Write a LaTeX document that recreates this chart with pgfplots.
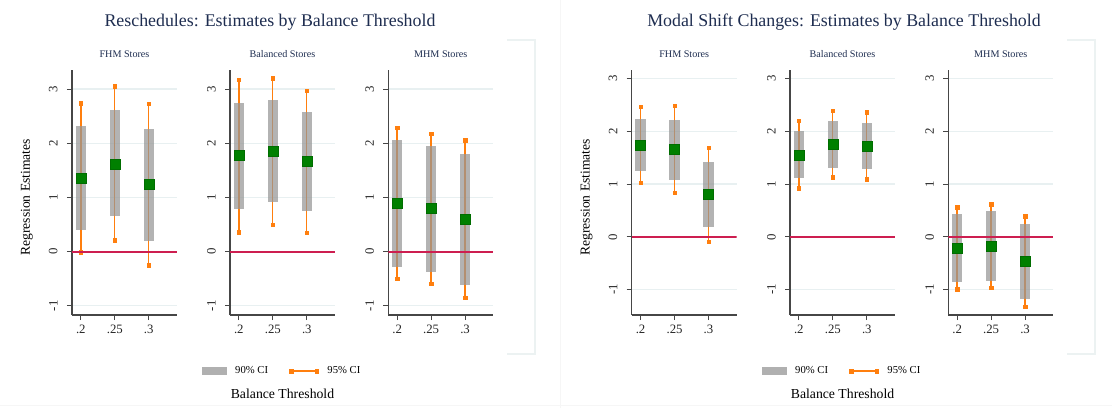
\documentclass[border=0pt]{standalone}
\usepackage{pgfplots}
\pgfplotsset{compat=1.18}
\usepackage{pgfplotstable}
\usepackage{fontspec}
\setmainfont{Liberation Serif}

\definecolor{myorange}{RGB}{255,127,14}
\definecolor{boxgray}{RGB}{150,150,150}
\definecolor{mygreen}{RGB}{0,128,0}
\definecolor{myred}{RGB}{205,30,80}
\definecolor{gridcol}{RGB}{232,240,241}
\definecolor{axisgray}{RGB}{70,70,70}
\definecolor{titlecol}{RGB}{30,45,80}
\definecolor{framecol}{RGB}{236,242,242}
\definecolor{framecolb}{RGB}{246,246,246}

% x: 0=.2, 1=.25, 2=.3
\pgfplotstableread{
x est lo90 hi90 lo95 hi95
0 1.36 0.40 2.32 -0.01 2.74
1 1.62 0.65 2.62 0.21 3.05
2 1.24 0.20 2.27 -0.25 2.73
}\tabAa
\pgfplotstableread{
x est lo90 hi90 lo95 hi95
0 1.77 0.79 2.75 0.36 3.17
1 1.85 0.91 2.79 0.49 3.20
2 1.66 0.75 2.58 0.35 2.97
}\tabAb
\pgfplotstableread{
x est lo90 hi90 lo95 hi95
0 0.89 -0.28 2.06 -0.50 2.28
1 0.79 -0.37 1.95 -0.59 2.17
2 0.59 -0.62 1.80 -0.85 2.05
}\tabAc
\pgfplotstableread{
x est lo90 hi90 lo95 hi95
0 1.73 1.24 2.23 1.02 2.46
1 1.65 1.08 2.22 0.83 2.48
2 0.80 0.18 1.41 -0.09 1.69
}\tabBa
\pgfplotstableread{
x est lo90 hi90 lo95 hi95
0 1.55 1.12 2.00 0.92 2.20
1 1.76 1.31 2.19 1.13 2.39
2 1.72 1.29 2.15 1.09 2.36
}\tabBb
\pgfplotstableread{
x est lo90 hi90 lo95 hi95
0 -0.21 -0.86 0.43 -0.99 0.56
1 -0.17 -0.83 0.49 -0.96 0.62
2 -0.47 -1.18 0.24 -1.32 0.39
}\tabBc

\pgfplotsset{
  ciaxis/.style={
    scale only axis, width=78.75pt, height=183.75pt, anchor=south west,
    xmin=-0.26, xmax=2.83,
    axis x line=bottom, axis y line=left,
    axis line style={draw=axisgray, line width=0.8pt, -},
    xtick={0,1,2}, xticklabels={.2,.25,.3},
    ytick={-1,0,1,2,3},
    tick style={draw=axisgray, line width=0.6pt},
    major tick length=3.75pt, tick align=outside,
    ymajorgrids, major grid style={gridcol, line width=0.9pt},
    /pgf/number format/assume math mode=true,
    tick label style={font=\fontsize{9.6}{11}\selectfont, text=black!85},
    yticklabel style={rotate=90, anchor=south},
    yticklabel shift=3.5pt,
    title style={font=\fontsize{7.6}{8}\selectfont, text=titlecol, at={(0.5,1)}, anchor=base, yshift=3.2pt},
    ylabel style={at={(axis description cs:-0.43,0.48)}, anchor=center, font=\fontsize{10.2}{11}\selectfont},
    xlabel style={at={(axis description cs:0.5,-0.322)}, anchor=center, font=\fontsize{10.3}{11}\selectfont},
    legend style={at={(0.5,-0.229)}, anchor=center, draw=none, fill=none,
      legend columns=2, font=\fontsize{8}{9}\selectfont,
      /tikz/every odd column/.append style={column sep=4.5pt},
      /tikz/every even column/.append style={column sep=14pt}},
  },
}

\newcommand{\ciplots}[1]{%
  \addplot[only marks, mark=none, forget plot,
    error bars/.cd, y dir=both, y explicit, error mark=square*,
    error mark options={myorange, fill=myorange, mark size=1.3pt},
    error bar style={myorange, line width=1pt}]
    table[x=x, y=est, y error plus expr=\thisrow{hi95}-\thisrow{est},
          y error minus expr=\thisrow{est}-\thisrow{lo95}] {#1};
  \addplot[only marks, mark=none, forget plot,
    error bars/.cd, y dir=both, y explicit, error mark=none,
    error bar style={boxgray, line width=7.75pt, draw opacity=0.72}]
    table[x=x, y=est, y error plus expr=\thisrow{hi90}-\thisrow{est},
          y error minus expr=\thisrow{est}-\thisrow{lo90}] {#1};
  \addplot[draw=myred, line width=1.4pt, no marks, forget plot] coordinates {(-0.26,0) (2.83,0)};
  \addplot[only marks, mark=square*, mark size=3.75pt,
    mark options={fill=mygreen, draw=mygreen!85!black, line width=0.4pt}, forget plot]
    table[x=x, y=est] {#1};
}

\newcommand{\cilegend}{%
  \addlegendimage{legend image code/.code={\fill[boxgray!75] (0pt,-2.6pt) rectangle (18pt,2.6pt);}}
  \addlegendentry{90\% CI}
  \addlegendimage{legend image code/.code={%
    \draw[myorange, line width=1pt] (0pt,0pt) -- (19pt,0pt);
    \fill[myorange] (-1.3pt,-1.3pt) rectangle (1.3pt,1.3pt);
    \fill[myorange] (17.7pt,-1.3pt) rectangle (20.3pt,1.3pt);}}
  \addlegendentry{95\% CI}
}

\begin{document}
\begin{tikzpicture}
\useasboundingbox (0pt,0pt) rectangle (834pt,306pt);

% faint graph-region frames
\draw[framecolb, line width=0.6pt] (420pt,0pt) -- (420pt,306pt);
\draw[framecolb, line width=0.6pt] (0pt,2.25pt) -- (834pt,2.25pt);
\draw[framecol, line width=0.8pt] (380.25pt,276pt) -- (401.25pt,276pt) -- (401.25pt,40.5pt) -- (380.25pt,40.5pt);
\draw[framecol, line width=0.8pt] (800.25pt,276pt) -- (821.25pt,276pt) -- (821.25pt,40.5pt) -- (800.25pt,40.5pt);

% titles
\node[text=titlecol, font=\fontsize{13.4}{14}\selectfont] at (202.5pt,289.5pt) {Reschedules: Estimates by Balance Threshold};
\node[text=titlecol, font=\fontsize{13.4}{14}\selectfont] at (633pt,289.5pt) {Modal Shift Changes: Estimates by Balance Threshold};

% ---- Panel 1: Reschedules ----
\begin{axis}[ciaxis, at={(54pt,69.75pt)}, ymin=-1.17, ymax=3.35,
  title={FHM Stores}, ylabel={Regression Estimates}]
\ciplots{\tabAa}
\end{axis}
\begin{axis}[ciaxis, at={(172.5pt,69.75pt)}, ymin=-1.17, ymax=3.35,
  title={Balanced Stores}, xlabel={Balance Threshold}]
\cilegend
\ciplots{\tabAb}
\end{axis}
\begin{axis}[ciaxis, at={(291.2pt,69.75pt)}, ymin=-1.17, ymax=3.35,
  title={MHM Stores}]
\ciplots{\tabAc}
\end{axis}

% ---- Panel 2: Modal Shift Changes ----
\begin{axis}[ciaxis, at={(473.8pt,69.75pt)}, ymin=-1.48, ymax=3.16,
  title={FHM Stores}, ylabel={Regression Estimates}]
\ciplots{\tabBa}
\end{axis}
\begin{axis}[ciaxis, at={(592.5pt,69.75pt)}, ymin=-1.48, ymax=3.16,
  title={Balanced Stores}, xlabel={Balance Threshold}]
\cilegend
\ciplots{\tabBb}
\end{axis}
\begin{axis}[ciaxis, at={(711.2pt,69.75pt)}, ymin=-1.48, ymax=3.16,
  title={MHM Stores}]
\ciplots{\tabBc}
\end{axis}
\end{tikzpicture}
\end{document}
